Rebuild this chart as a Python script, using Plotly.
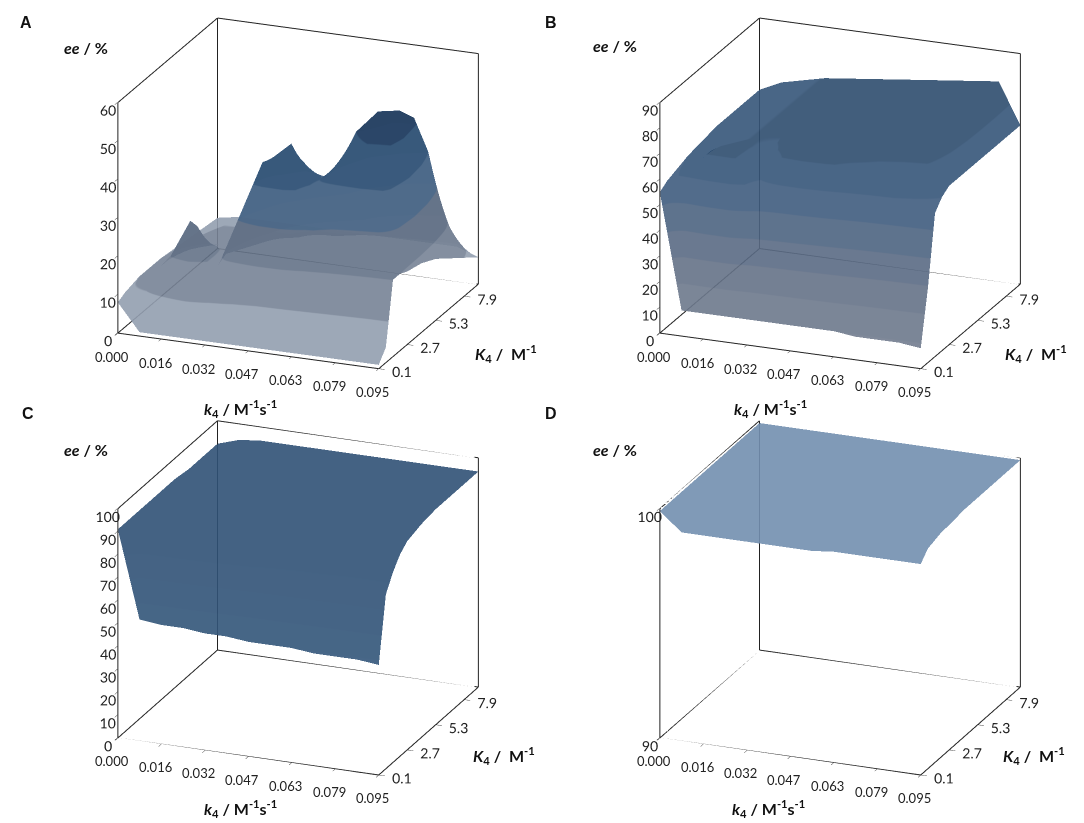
import plotly.graph_objects as go

# ---------------- data ----------------
k4 = [0.0, 0.0079, 0.0158, 0.0238, 0.0317, 0.0396, 0.0475, 0.0554, 0.0633, 0.0713, 0.0792, 0.0871, 0.095]
K4 = [0.1, 0.75, 1.4, 2.05, 2.7, 4.0, 5.3, 6.6, 7.9, 9.2]

k4_ticks = [0.0, 0.0158, 0.0317, 0.0475, 0.0633, 0.0792, 0.095]
k4_labels = ["0.000", "0.016", "0.032", "0.047", "0.063", "0.079", "0.095"]
K4_ticks = [0.1, 2.7, 5.3, 7.9]
K4_labels = ["0.1", "2.7", "5.3", "7.9"]

ee_A = [
    [8, 1, 1, 1, 1, 1, 1, 1, 1, 1, 1, 1, 1],
    [9, 10, 19, 30, 17, 12, 10, 8, 7, 6, 5, 4, 4],
    [9.5, 13, 20, 27, 18, 32, 46, 48, 32, 26, 23, 21, 20],
    [10, 14, 18, 22, 19, 30, 45, 50, 38, 34, 32, 30, 20],
    [10, 14, 17, 19, 18, 26, 38, 45, 40, 45, 48, 46, 19],
    [10, 13, 15, 16, 16, 21, 28, 34, 38, 50, 56, 57, 18],
    [9.5, 12, 13, 14, 14, 17, 21, 25, 30, 42, 50, 52, 16],
    [9, 11, 12, 12, 12, 13, 15, 17, 20, 27, 35, 40, 13],
    [8.5, 10, 10, 10, 10, 11, 11, 12, 13, 15, 18, 21, 10],
    [8, 9, 9, 9, 9, 9, 9, 9, 9, 9, 9, 9, 7],
]
ee_B = [
    [55, 10, 10, 10, 10, 10, 10, 10, 10, 9, 9, 9, 8],
    [57, 62, 71, 73, 50, 45, 42, 39, 36, 33, 31, 30, 29],
    [58, 64, 70, 72, 60, 70, 74, 72, 66, 62, 60, 58, 56],
    [59, 65, 69, 71, 66, 74, 77, 76, 72, 68, 66, 64, 60],
    [60, 65, 68, 70, 69, 75, 77, 78, 76, 73, 71, 70, 62],
    [61, 66, 68, 70, 71, 74, 76, 77, 78, 77, 76, 75, 62],
    [62, 66, 68, 70, 71, 73, 75, 76, 77, 78, 78, 78, 62],
    [62, 66, 68, 70, 71, 72, 74, 75, 76, 77, 78, 79, 62],
    [62, 66, 68, 70, 71, 72, 73, 74, 75, 76, 77, 79, 62],
    [62, 66, 68, 70, 71, 72, 73, 74, 75, 76, 77, 78, 62],
]
ee_C = [
    [91, 53, 52, 52, 51, 51, 50, 50, 50, 49, 49, 49, 48],
    [91, 91, 90, 89, 86, 82, 79, 78, 77, 77, 76, 76, 76],
    [91, 92, 92, 91, 90, 88, 86, 85, 84, 84, 83, 83, 83],
    [91, 93, 93, 93, 92, 91, 90, 89, 88, 88, 88, 88, 88],
    [91, 93, 93, 93, 93, 93, 92, 92, 91, 91, 91, 91, 91],
    [91, 93, 94, 94, 94, 94, 93, 93, 93, 93, 93, 93, 93],
    [91, 93, 94, 94, 94, 94, 94, 94, 94, 94, 94, 94, 94],
    [90, 93, 94, 94, 94, 94, 94, 94, 94, 94, 94, 94, 94],
    [90, 93, 94, 94, 94, 94, 94, 94, 94, 94, 94, 94, 94],
    [90, 93, 94, 94, 94, 94, 94, 94, 94, 94, 94, 94, 94],
]
ee_D = [
    [99.9, 99.1, 99.1, 99.1, 99.1, 99.1, 99.1, 99.1, 99.2, 99.2, 99.2, 99.2, 99.2],
    [99.9, 99.8, 99.8, 99.8, 99.8, 99.8, 99.8, 99.8, 99.8, 99.8, 99.7, 99.7, 99.6],
    [99.9, 99.9, 99.9, 99.9, 99.9, 99.9, 99.9, 99.9, 99.9, 99.8, 99.8, 99.8, 99.7],
    [99.9, 99.9, 99.9, 99.9, 99.9, 99.9, 99.9, 99.9, 99.9, 99.9, 99.9, 99.8, 99.8],
    [99.9, 99.9, 99.9, 99.9, 99.9, 99.9, 99.9, 99.9, 99.9, 99.9, 99.9, 99.9, 99.8],
    [99.9, 99.9, 99.9, 99.9, 99.9, 99.9, 99.9, 99.9, 99.9, 99.9, 99.9, 99.9, 99.9],
    [99.9, 99.9, 99.9, 99.9, 99.9, 99.9, 99.9, 99.9, 99.9, 99.9, 99.9, 99.9, 99.9],
    [99.9, 99.9, 99.9, 99.9, 99.9, 99.9, 99.9, 99.9, 99.9, 99.9, 99.9, 99.9, 99.9],
    [99.9, 99.9, 99.9, 99.9, 99.9, 99.9, 99.9, 99.9, 99.9, 99.9, 99.9, 99.9, 99.9],
    [99.9, 99.9, 99.9, 99.9, 99.9, 99.9, 99.9, 99.9, 99.9, 99.9, 99.9, 99.9, 99.9],
]

z_ranges = {"A": (0, 60, 10), "B": (0, 90, 10), "C": (0, 100, 10), "D": (90, 100, 10)}

band_A = ["#adbbcf", "#8c9ab0", "#75869f", "#587aa0", "#3f668f", "#2e4e76"]
band_B = ["#8693a8", "#808ea5", "#77869f", "#6a7d9b", "#5a7598", "#4a6c95",
          "#3f648e", "#355a82", "#2e5178"]
band_C = ["#3f6893", "#3f6893", "#3f6893", "#3f6893", "#3d6691", "#3b648f",
          "#3a628d", "#39618c", "#38608b", "#38608b"]
band_D = ["#87a8cf", "#87a8cf"]


def stepped(colors):
    n = len(colors)
    cs = []
    for i, c in enumerate(colors):
        cs.append([i / n, c])
        cs.append([(i + 1) / n, c])
    return cs


fig = go.Figure()

panels = [
    ("A", ee_A, band_A, "scene", [0.0, 0.5], [0.5, 1.0], -0.12),
    ("B", ee_B, band_B, "scene2", [0.5, 1.0], [0.5, 1.0], -0.12),
    ("C", ee_C, band_C, "scene3", [0.0, 0.5], [0.0, 0.5], -0.16),
    ("D", ee_D, band_D, "scene4", [0.5, 1.0], [0.0, 0.5], -0.16),
]

xmin, xmax = k4[0], k4[-1]
ymin, ymax = K4[0], K4[-1]
xpad = (xmax - xmin) * 0.002
tickfont = dict(family="Lato", size=13, color="#222")

for name, z, bands, scene, dx, dy, cz in panels:
    zmin, zmax, dz = z_ranges[name]
    fig.add_trace(go.Surface(
        x=k4, y=K4, z=z, scene=scene,
        colorscale=stepped(bands), cmin=zmin, cmax=zmax,
        showscale=False, opacity=0.9,
        lighting=dict(ambient=0.85, diffuse=0.3, specular=0.05, roughness=0.9, fresnel=0.1),
        lightposition=dict(x=-1000, y=-2000, z=3000),
        hoverinfo="skip",
    ))
    ex, ey, ez = [], [], []
    segs = [
        ((xmin, ymin, zmin), (xmin, ymin, zmax)),
        ((xmin, ymin, zmax), (xmin, ymax, zmax)),
        ((xmin, ymax, zmin), (xmin, ymax, zmax)),
        ((xmin, ymax, zmax), (xmax, ymax, zmax)),
        ((xmax, ymax, zmax), (xmax, ymax, zmin)),
        ((xmin, ymin, zmin), (xmin, ymax, zmin)),
        ((xmin, ymax, zmin), (xmax, ymax, zmin)),
        ((xmin, ymin, zmin), (xmax, ymin, zmin)),
        ((xmax, ymin, zmin), (xmax, ymax, zmin)),
    ]
    for a, b in segs:
        ex += [a[0], b[0], None]
        ey += [a[1], b[1], None]
        ez += [a[2], b[2], None]
    fig.add_trace(go.Scatter3d(x=ex, y=ey, z=ez, mode="lines", scene=scene,
                               line=dict(color="#222222", width=2),
                               hoverinfo="skip", showlegend=False))

    # category labels of the k4 axis placed below the front edge
    xlab = [dict(x=v, y=ymin, z=zmin, text=t, showarrow=False, xshift=-6, yshift=-24,
                 font=tickfont) for v, t in zip(k4_ticks, k4_labels)]

    axcommon = dict(showbackground=False, showgrid=False, zeroline=False,
                    showline=False, showspikes=False, ticks="outside",
                    tickcolor="#222", title=dict(text=""), tickangle=0, tickfont=tickfont)
    fig.update_layout(**{scene: dict(
        domain=dict(x=dx, y=dy),
        bgcolor="rgba(0,0,0,0)",
        xaxis=dict(range=[xmin - xpad, xmax + xpad], tickvals=k4_ticks, ticktext=k4_labels,
                   ticklen=6, showticklabels=False, **axcommon),
        yaxis=dict(range=[ymin, ymax], tickvals=K4_ticks, ticktext=K4_labels, ticklen=7, **axcommon),
        zaxis=dict(range=[zmin, zmax], dtick=dz, tick0=zmin, ticklen=6, **axcommon),
        aspectmode="manual",
        aspectratio=dict(x=1.37, y=1.30, z=1.19),
        camera=dict(eye=dict(x=0.80, y=-2.245, z=0.755),
                    center=dict(x=-0.1, y=0, z=cz),
                    projection=dict(type="orthographic")),
        annotations=xlab,
    )})

W, H = 1084, 823
ann = []
letters = [("A", 18, 15), ("B", 543, 15), ("C", 20, 405), ("D", 543, 405)]
for t, px, py in letters:
    ann.append(dict(text="<b>%s</b>" % t, x=px / W, y=1 - py / H, xref="paper", yref="paper",
                    xanchor="center", yanchor="middle", showarrow=False,
                    font=dict(family="Liberation Sans", size=16, color="#111")))
titles = [
    ((78, 40), (232, 400), (498, 345)),
    ((607, 38), (762, 400), (1028, 345)),
    ((78, 442), (232, 800), (496, 747)),
    ((607, 442), (760, 800), (1026, 747)),
]
for ee_pos, k_pos, K_pos in titles:
    for txt, (px, py) in [
        ("<b><i>ee</i> / %</b>", ee_pos),
        ("<b><i>k</i><sub>4</sub> / M<sup>-1</sup>s<sup>-1</sup></b>", k_pos),
        ("<b><i>K</i><sub>4</sub> /  M<sup>-1</sup></b>", K_pos),
    ]:
        ann.append(dict(text=txt, x=px / W, y=1 - py / H, xref="paper", yref="paper",
                        xanchor="center", yanchor="middle", showarrow=False,
                        font=dict(family="Lato", size=16, color="#111")))

fig.update_layout(width=W, height=H, margin=dict(l=0, r=0, t=0, b=0),
                  paper_bgcolor="white", showlegend=False, annotations=ann)

fig.write_html("out.html")
